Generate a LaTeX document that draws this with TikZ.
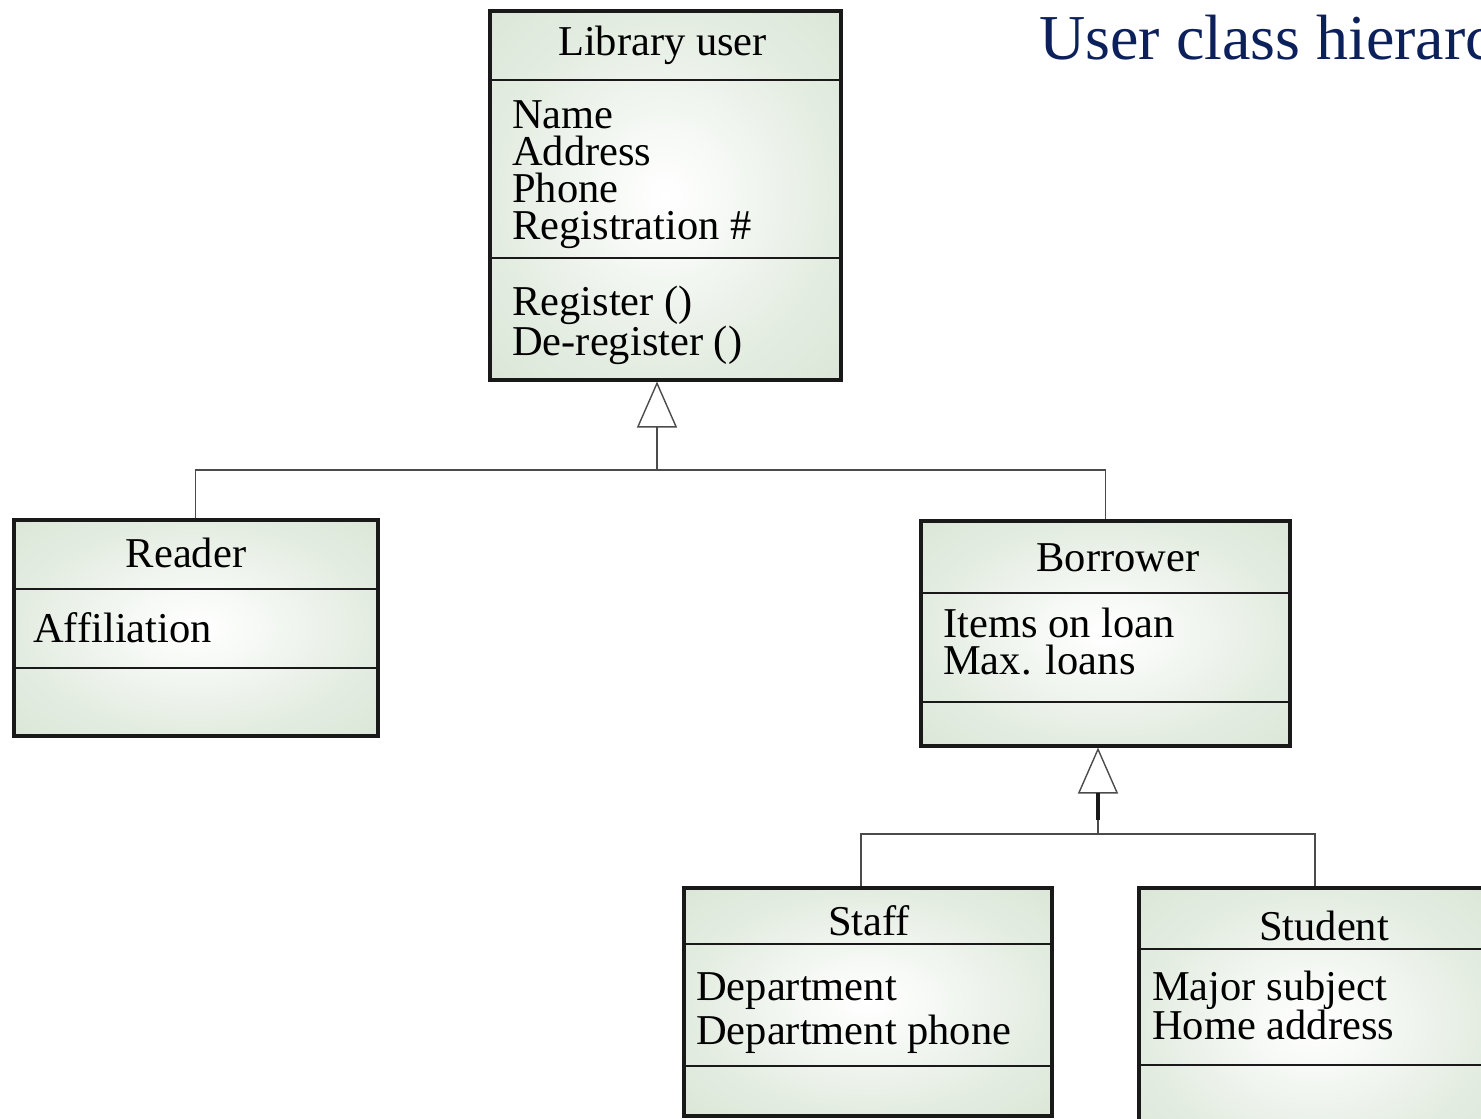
\documentclass[tikz,border=0pt]{standalone}
\usepackage{fontspec}
\setmainfont{Liberation Serif}
\usetikzlibrary{arrows.meta}

\definecolor{boxgreen}{RGB}{208,223,204}
\definecolor{titleblue}{RGB}{12,32,92}
\definecolor{linkgrey}{RGB}{75,75,75}
\pgfdeclareradialshading{classshade}{\pgfpoint{0bp}{0bp}}{color(0bp)=(white); color(5bp)=(white!90!boxgreen); color(25bp)=(white!40!boxgreen); color(50bp)=(boxgreen); color(72bp)=(boxgreen)}

\begin{document}
\begin{tikzpicture}[
        x=1pt,
        y=-1pt,
        classbox/.style={draw=black!90, line width=4pt, shading=classshade, rectangle, anchor=north west, inner sep=0pt},
        classname/.style={font=\fontsize{42.5}{37}\selectfont, anchor=base, inner sep=0pt},
        members/.style={font=\fontsize{42.5}{#1}\selectfont, anchor=base west, align=left, inner sep=0pt},
        members/.default=37,
        divider/.style={line width=2pt, draw=black!90},
        link/.style={line width=1.4pt, draw=linkgrey},
        isa/.style={-{Triangle[open, length=46pt, width=40pt, line width=1.4pt]}}
    ]
    \useasboundingbox (0,0) rectangle (1481,1119);
    \clip (0,0) rectangle (1481,1119);

    \node[font=\fontsize{64}{70}\selectfont, text=titleblue, anchor=base west, inner sep=0pt] (title) at (1039,59) {User class hierarchy};

    % class boxes
    \node[classbox, minimum width=351.5pt, minimum height=368.5pt] (user) at (487.5,9) {};
    \node[classbox, minimum width=363.5pt, minimum height=216pt] (reader) at (12,517.5) {};
    \node[classbox, minimum width=369.5pt, minimum height=225pt] (borrower) at (918.5,518.5) {};
    \node[classbox, minimum width=368pt, minimum height=228pt] (staff) at (682,886) {};
    \node[classbox, minimum width=352pt, minimum height=270pt] (student) at (1137,886) {};

    % compartments
    \foreach \cls/\ya/\yb in {user/80/258, reader/589/668, borrower/593/702, staff/944/1066, student/949/1065} {
        \draw[divider] (\cls.west |- 0,\ya) -- (\cls.east |- 0,\ya);
        \draw[divider] (\cls.west |- 0,\yb) -- (\cls.east |- 0,\yb);
    }

    % names and members (members placed by their last baseline)
    \node[classname] (user-name) at (662.5,55) {Library user};
    \node[members] (user-attr) at (512,239) {Name\\Address\\Phone\\Registration \#};
    \node[members] (user-ops) at (512,355) {Register ()\\De-register ()};

    \node[classname] (reader-name) at (186,567) {Reader};
    \node[members] (reader-attr) at (33,642) {Affiliation};

    \node[classname] (borrower-name) at (1118,571) {Borrower};
    \node[members] (borrower-attr) at (943,674) {Items on loan\\Max. loans};

    \node[classname] (staff-name) at (869,935) {Staff};
    \node[members=44] (staff-attr) at (696,1044) {Department\\Department phone};

    \node[classname] (student-name) at (1324,940) {Student};
    \node[members=39] (student-attr) at (1152,1039) {Major subject\\Home address};

    % generalisation links
    \coordinate (ufork) at (657,470);
    \draw[link] (reader.north) |- (ufork) -| (borrower.north);
    \draw[link, isa] (ufork) -- (ufork |- user.south);

    \coordinate (bfork) at (1098,834);
    \draw[link] ([xshift=-7pt]staff.north) |- (bfork) -| (student.north);
    \draw[link, isa] (bfork) -- (bfork |- borrower.south);
    \draw[line width=3.5pt, black!90] ([yshift=14pt]bfork) -- ([yshift=41pt]bfork);
\end{tikzpicture}
\end{document}
